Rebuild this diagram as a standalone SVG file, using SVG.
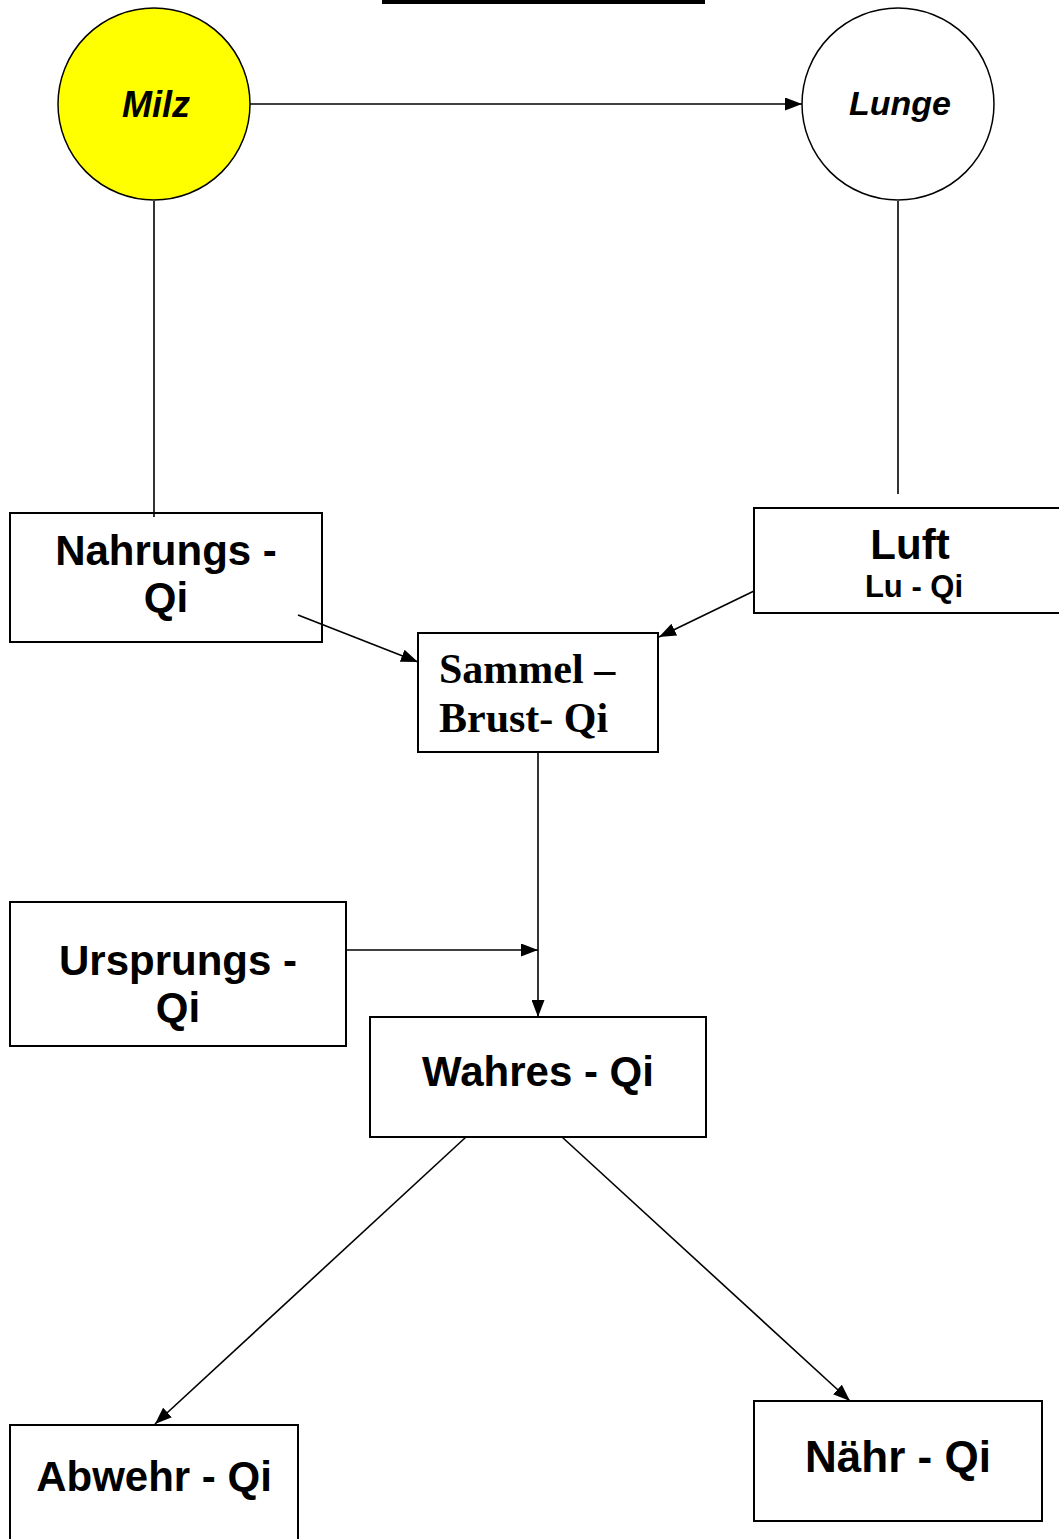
<svg xmlns="http://www.w3.org/2000/svg" width="1059" height="1539" viewBox="0 0 1059 1539">
<style>
.box{fill:#fff;stroke:#000;stroke-width:2}
.circ{stroke:#000;stroke-width:1.5}
.ln{stroke:#000;stroke-width:1.6;fill:none}
.sans{font-family:"Liberation Sans",Arial,sans-serif;font-weight:bold;fill:#000;text-anchor:middle}
.serif{font-family:"Liberation Serif","Times New Roman",serif;font-weight:bold;fill:#000}
</style>
<defs>
<marker id="ah" viewBox="0 0 17 13" refX="17" refY="6.5" markerWidth="17" markerHeight="13" markerUnits="userSpaceOnUse" orient="auto">
<path d="M0,0 L17,6.5 L0,13 Z" fill="#000"/>
</marker>
</defs>
<rect x="382" y="0" width="323" height="4" fill="#000"/>
<g id="milz">
<circle class="circ" cx="154" cy="104" r="96" fill="#ffff00"/>
<text class="sans" x="156" y="117" font-size="36" font-style="italic">Milz</text>
</g>
<g id="lunge">
<circle class="circ" cx="898" cy="104" r="96" fill="#fff"/>
<text class="sans" x="900" y="115" font-size="34" font-style="italic">Lunge</text>
</g>
<g id="nahrungs">
<rect class="box" x="10" y="513" width="312" height="129"/>
<text class="sans" x="166" y="565" font-size="42">Nahrungs -</text>
<text class="sans" x="166" y="612" font-size="42">Qi</text>
</g>
<g id="luft">
<rect class="box" x="754" y="508" width="320" height="105"/>
<text class="sans" x="910" y="559" font-size="42">Luft</text>
<text class="sans" x="914" y="597" font-size="31">Lu - Qi</text>
</g>
<g id="sammel">
<rect class="box" x="418" y="633" width="240" height="119"/>
<text class="serif" x="439" y="683" font-size="42">Sammel –</text>
<text class="serif" x="439" y="732" font-size="42">Brust- Qi</text>
</g>
<g id="ursprungs">
<rect class="box" x="10" y="902" width="336" height="144"/>
<text class="sans" x="178" y="975" font-size="42">Ursprungs -</text>
<text class="sans" x="178" y="1022" font-size="42">Qi</text>
</g>
<g id="wahres">
<rect class="box" x="370" y="1017" width="336" height="120"/>
<text class="sans" x="538" y="1086" font-size="42">Wahres - Qi</text>
</g>
<g id="abwehr">
<rect class="box" x="10" y="1425" width="288" height="130"/>
<text class="sans" x="154" y="1491" font-size="42">Abwehr - Qi</text>
</g>
<g id="naehr">
<rect class="box" x="754" y="1401" width="288" height="120"/>
<text class="sans" x="898" y="1472" font-size="44">Nähr - Qi</text>
</g>
<g id="connectors">
<line class="ln" x1="250" y1="104" x2="802" y2="104" marker-end="url(#ah)"/>
<line class="ln" x1="154" y1="201" x2="154" y2="517"/>
<line class="ln" x1="898" y1="201" x2="898" y2="494"/>
<line class="ln" x1="298" y1="615" x2="418" y2="662" marker-end="url(#ah)"/>
<line class="ln" x1="754" y1="591" x2="659" y2="637" marker-end="url(#ah)"/>
<line class="ln" x1="538" y1="752" x2="538" y2="1017" marker-end="url(#ah)"/>
<line class="ln" x1="346" y1="950" x2="538" y2="950" marker-end="url(#ah)"/>
<line class="ln" x1="466" y1="1137" x2="155" y2="1424" marker-end="url(#ah)"/>
<line class="ln" x1="562" y1="1137" x2="850" y2="1401" marker-end="url(#ah)"/>
</g>
</svg>
